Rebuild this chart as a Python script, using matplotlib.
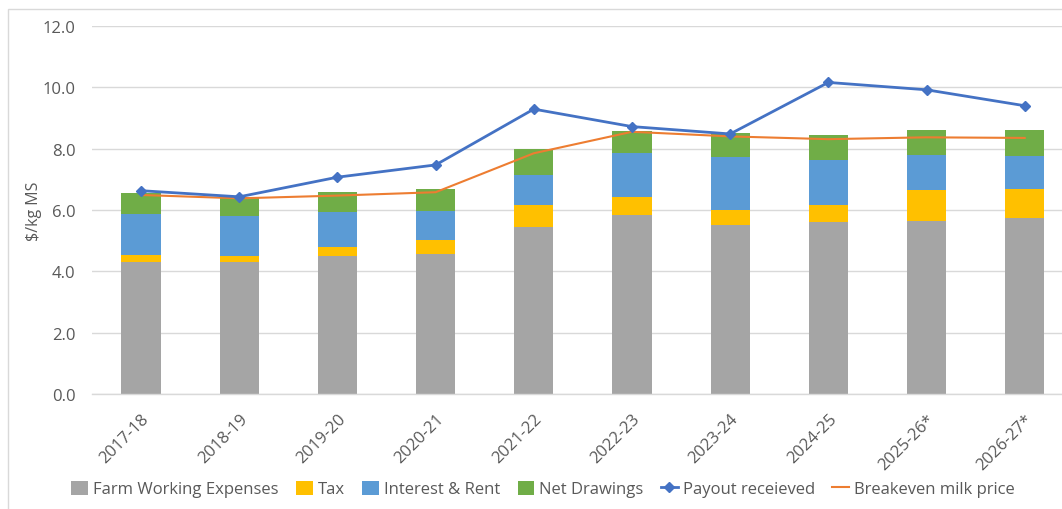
import numpy as np
import matplotlib
matplotlib.use("Agg")
import matplotlib.pyplot as plt
from matplotlib.patches import Rectangle

# Season labels (asterisk = forecast)
seasons = ["2017-18", "2018-19", "2019-20", "2020-21", "2021-22",
           "2022-23", "2023-24", "2024-25", "2025-26*", "2026-27*"]

# Cost components, $/kg MS
farm_working = [4.30, 4.31, 4.49, 4.56, 5.43, 5.84, 5.51, 5.62, 5.65, 5.74]
tax = [0.23, 0.20, 0.31, 0.46, 0.73, 0.57, 0.49, 0.55, 1.00, 0.94]
interest_rent = [1.34, 1.30, 1.12, 0.96, 0.98, 1.45, 1.74, 1.46, 1.14, 1.09]
net_drawings = [0.68, 0.63, 0.66, 0.70, 0.85, 0.73, 0.77, 0.82, 0.82, 0.84]

payout = [6.63, 6.43, 7.07, 7.47, 9.29, 8.72, 8.48, 10.16, 9.92, 9.40]
breakeven = [6.49, 6.38, 6.47, 6.58, 7.85, 8.55, 8.40, 8.31, 8.37, 8.35]

plt.rcParams['font.family'] = ['Open Sans', 'DejaVu Sans']

fig = plt.figure(figsize=(10.62, 5.10), dpi=100)
W, H = 1062, 510

# light chart-area border
fig.patches.append(Rectangle((8 / W, -0.1), 1.2, 1 - 10 / H + 0.1,
                             transform=fig.transFigure, fill=False,
                             edgecolor='#d9d9d9', linewidth=1.0))

ax = fig.add_axes([92 / W, (H - 395) / H, (W - 92) / W, (395 - 27) / H])

x = np.arange(len(seasons))
width = 0.4
bottom = np.zeros(len(seasons))
stack = [
    (farm_working, '#A5A5A5', 'Farm Working Expenses'),
    (tax, '#FFC000', 'Tax'),
    (interest_rent, '#5B9BD5', 'Interest & Rent'),
    (net_drawings, '#70AD47', 'Net Drawings'),
]
for vals, col, lab in stack:
    ax.bar(x, vals, width, bottom=bottom, color=col, label=lab, zorder=2)
    bottom += np.array(vals)

ax.plot(x, payout, color='#4472C4', linewidth=2.0, marker='D', markersize=5,
        label='Payout receieved', zorder=4)
ax.plot(x, breakeven, color='#ED7D31', linewidth=1.5,
        label='Breakeven milk price', zorder=3)

ax.set_ylim(0, 12)
ax.set_yticks(np.arange(0, 12.1, 2))
ax.set_yticklabels([f"{v:.1f}" for v in np.arange(0, 12.1, 2)],
                   fontsize=12, color='#595959')
ax.set_xlim(-0.5, 9.38)
ax.set_xticks(x)
ax.set_xticklabels(seasons, rotation=45, ha='right', rotation_mode='anchor',
                   fontsize=12, color='#595959')
ax.tick_params(axis='x', length=0, pad=12)
ax.tick_params(axis='y', length=0, pad=12)
ax.set_ylabel('$/kg MS', fontsize=11.5, color='#595959')
ax.yaxis.set_label_coords(-50 / (W - 92), 0.5)

ax.grid(axis='y', color='#d9d9d9', linewidth=1.0, zorder=0)
ax.set_axisbelow(True)
for side in ['top', 'right', 'left']:
    ax.spines[side].set_visible(False)
ax.spines['bottom'].set_color('#d9d9d9')
ax.spines['bottom'].set_linewidth(1.0)

handles, labels = ax.get_legend_handles_labels()
order = [2, 3, 4, 5, 0, 1]
fig.legend([handles[i] for i in order], [labels[i] for i in order],
           loc='center', bbox_to_anchor=(543 / W, (H - 490) / H), ncol=6,
           frameon=False, fontsize=12, handlelength=1.0, handleheight=0.9,
           handletextpad=0.3, columnspacing=1.05, labelcolor='#595959')

fig.savefig('out.png', dpi=100)
